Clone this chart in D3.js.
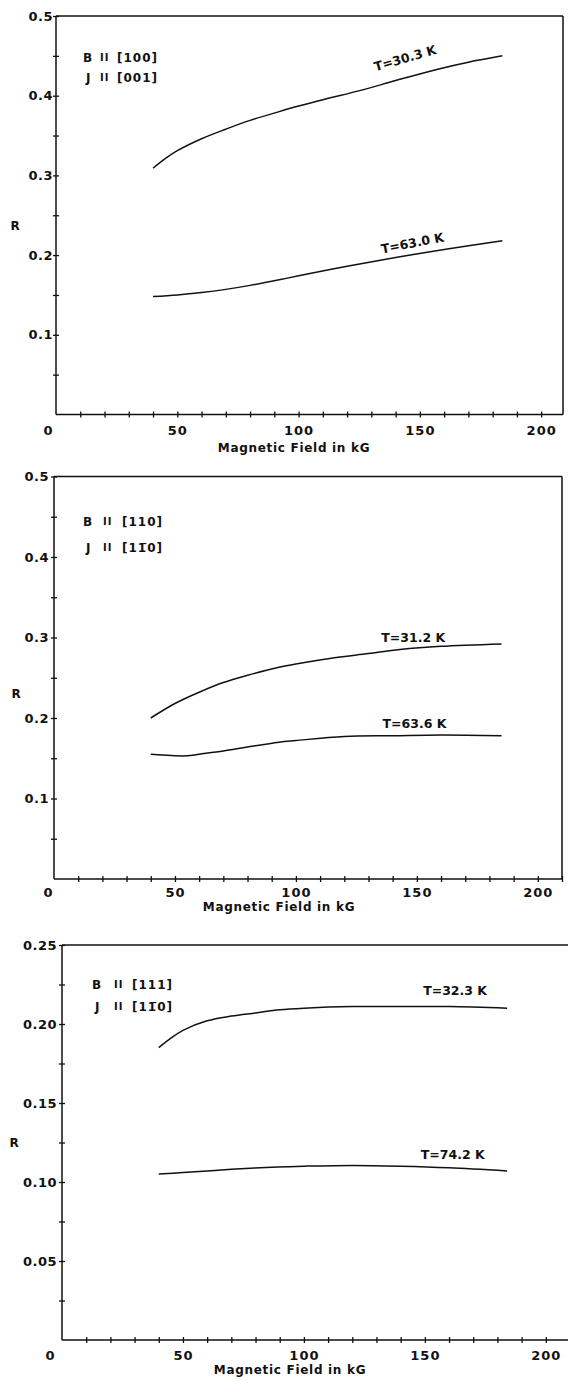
<!DOCTYPE html>
<html>
<head>
<meta charset="utf-8">
<script src="https://cdn.jsdelivr.net/npm/d3@7"></script>
<style>
  html, body { margin: 0; padding: 0; background: #fff; }
  svg { display: block; }
  text { font-family: "DejaVu Sans", sans-serif; font-weight: bold; fill: #111; }
</style>
</head>
<body>
<svg id="chart" width="568" height="1380"></svg>
<script>
// ---------------- DATA ----------------
const xTickValues = [0, 50, 100, 150, 200];
const xMinorStep = 10;

// Panel 1: B || [100], J || [001]
const field_p1_a = [40, 45, 50, 60, 70, 80, 92, 100, 110, 126, 140, 157, 170, 184];
const r_p1_a     = [0.309, 0.321, 0.331, 0.346, 0.358, 0.369, 0.380, 0.387, 0.395, 0.407, 0.419, 0.433, 0.442, 0.450];
const field_p1_b = [40, 50, 60, 70, 80, 92, 100, 120, 140, 160, 184];
const r_p1_b     = [0.148, 0.150, 0.153, 0.157, 0.162, 0.169, 0.174, 0.186, 0.197, 0.207, 0.218];

// Panel 2: B || [110], J || [1-10]
const field_p2_a = [40, 50, 60, 70, 80, 93, 100, 114, 130, 143, 160, 185];
const r_p2_a     = [0.200, 0.218, 0.232, 0.244, 0.253, 0.263, 0.267, 0.274, 0.280, 0.285, 0.289, 0.292];
const field_p2_b = [40, 45, 50, 55, 60, 70, 80, 93, 100, 120, 140, 160, 185];
const r_p2_b     = [0.155, 0.154, 0.153, 0.153, 0.155, 0.159, 0.164, 0.170, 0.172, 0.177, 0.178, 0.179, 0.178];

// Panel 3: B || [111], J || [1-10]
const field_p3_a = [40, 45, 50, 60, 70, 80, 90, 100, 120, 140, 160, 184];
const r_p3_a     = [0.185, 0.191, 0.196, 0.202, 0.205, 0.207, 0.209, 0.210, 0.211, 0.211, 0.211, 0.210];
const field_p3_b = [40, 50, 60, 70, 89, 100, 120, 140, 160, 184];
const r_p3_b     = [0.105, 0.106, 0.107, 0.108, 0.1095, 0.110, 0.1105, 0.110, 0.109, 0.107];

const curveLabels = [["T=30.3 K", "T=63.0 K"], ["T=31.2 K", "T=63.6 K"], ["T=32.3 K", "T=74.2 K"]];
const legendB = ["[100]", "[110]", "[111]"];
const legendJ = ["[001]", "[11\u03050]", "[11\u03050]"];
const yMaxes = [0.5, 0.5, 0.25];
const yMajorTicks = [[0.1, 0.2, 0.3, 0.4, 0.5], [0.1, 0.2, 0.3, 0.4, 0.5], [0.05, 0.10, 0.15, 0.20, 0.25]];
const xTitle = "Magnetic Field in kG";
const yTitle = "R";
const parallelSign = "II";

// ---------------- LAYOUT ----------------
const panels = [
  { left: 56, right: 563, xMax: 209, top: 16, bottom: 414.5, fmt: ".1f", minor: 0.05,
    curves: [[field_p1_a, r_p1_a], [field_p1_b, r_p1_b]],
    labelPos: [[144, 0.446, -16], [147, 0.214, -11]],
    zeroDx: -8, yLabelGap: 3, rPos: [15, 226], titleX: 294, titleDy: 34, tickDy: 16,
    leg: { bx: 83, px: 100, kx: 117, by: 58, jy: 78, jx: 86 }, rightBorder: true },
  { left: 54, right: 562, xMax: 210, top: 476.5, bottom: 879, fmt: ".1f", minor: 0.05,
    curves: [[field_p2_a, r_p2_a], [field_p2_b, r_p2_b]],
    labelPos: [[148.5, 0.299, 0], [149, 0.192, 0]],
    zeroDx: -6, yLabelGap: 5, rPos: [16, 694], titleX: 279, titleDy: 28, tickDy: 13,
    leg: { bx: 83, px: 103, kx: 122, by: 522, jy: 548, jx: 86 }, rightBorder: true },
  { left: 62, right: 570, xMax: 210, top: 945, bottom: 1340, fmt: ".2f", minor: 0.025,
    curves: [[field_p3_a, r_p3_a], [field_p3_b, r_p3_b]],
    labelPos: [[162.5, 0.2205, 0], [161.5, 0.1165, 0]],
    zeroDx: -12, yLabelGap: 5, rPos: [14, 1143], titleX: 290, titleDy: 30, tickDy: 15,
    leg: { bx: 92, px: 114, kx: 132, by: 985, jy: 1007, jx: 95 }, rightBorder: false }
];

const svg = d3.select("#chart");

panels.forEach((p, i) => {
  const g = svg.append("g");
  const x = d3.scaleLinear().domain([0, p.xMax]).range([p.left, p.right]);
  const y = d3.scaleLinear().domain([0, yMaxes[i]]).range([p.bottom, p.top]);

  // frame: top border and right border
  g.append("line").attr("x1", p.left).attr("x2", p.right).attr("y1", p.top).attr("y2", p.top)
    .attr("stroke", "#111").attr("stroke-width", 1.5);
  if (p.rightBorder) {
    g.append("line").attr("x1", p.right).attr("x2", p.right).attr("y1", p.top).attr("y2", p.bottom)
      .attr("stroke", "#111").attr("stroke-width", 1.5);
  }

  // x axis ticks (every 10 units, crossing)
  const xMinor = d3.range(xMinorStep, p.xMax + 0.01, xMinorStep);
  const xAxisDown = d3.axisBottom(x).tickValues(xMinor).tickSize(3).tickSizeOuter(0).tickFormat("");
  const xAxisUp = d3.axisTop(x).tickValues(xMinor).tickSize(3).tickSizeOuter(0).tickFormat("");
  const gx1 = g.append("g").attr("transform", `translate(0,${p.bottom})`).call(xAxisDown);
  const gx2 = g.append("g").attr("transform", `translate(0,${p.bottom})`).call(xAxisUp);
  gx2.select(".domain").remove();
  [gx1, gx2].forEach(a => {
    a.select(".domain").attr("stroke", "#111").attr("stroke-width", 1.5).attr("d", `M${p.left},0H${p.right}`);
    a.selectAll(".tick line").attr("stroke", "#111").attr("stroke-width", 1.3);
  });

  // x tick labels
  const xl = d3.axisBottom(x).tickValues(xTickValues).tickSize(0).tickFormat(d3.format("d"));
  const gxl = g.append("g").attr("transform", `translate(0,${p.bottom + p.tickDy})`).call(xl);
  gxl.select(".domain").remove();
  gxl.selectAll(".tick text").attr("dy", "0.35em").attr("y", 0)
    .style("font-size", "13px").style("letter-spacing", "1px").attr("fill", "#111")
    .attr("dx", d => d === 0 ? p.zeroDx : 0);

  // y axis ticks (crossing)
  const yAll = d3.range(p.minor, yMaxes[i] + 1e-9, p.minor).map(v => +v.toFixed(3));
  const yAxisL = d3.axisLeft(y).tickValues(yAll).tickSize(3).tickSizeOuter(0).tickFormat("");
  const yAxisR = d3.axisRight(y).tickValues(yAll).tickSize(3).tickSizeOuter(0).tickFormat("");
  const gy1 = g.append("g").attr("transform", `translate(${p.left},0)`).call(yAxisL);
  const gy2 = g.append("g").attr("transform", `translate(${p.left},0)`).call(yAxisR);
  gy2.select(".domain").remove();
  [gy1, gy2].forEach(a => {
    a.select(".domain").attr("stroke", "#111").attr("stroke-width", 1.5).attr("d", `M0,${p.top}V${p.bottom}`);
    a.selectAll(".tick line").attr("stroke", "#111").attr("stroke-width", 1.3);
  });

  // y tick labels
  const yl = d3.axisLeft(y).tickValues(yMajorTicks[i]).tickSize(0).tickPadding(p.yLabelGap)
    .tickFormat(d3.format(p.fmt));
  const gyl = g.append("g").attr("transform", `translate(${p.left},0)`).call(yl);
  gyl.select(".domain").remove();
  gyl.selectAll(".tick text").style("font-size", "13px").style("letter-spacing", "0.5px").attr("fill", "#111");

  // axis titles
  g.append("text").attr("x", p.titleX).attr("y", p.bottom + p.titleDy).attr("text-anchor", "middle")
    .attr("dominant-baseline", "middle").style("font-size", "12px").style("letter-spacing", "0.7px").text(xTitle);
  g.append("text").attr("x", p.rPos[0]).attr("y", p.rPos[1]).attr("text-anchor", "middle")
    .attr("dominant-baseline", "middle").style("font-size", "12px").text(yTitle);

  // curves
  const line = d3.line().x(d => x(d[0])).y(d => y(d[1])).curve(d3.curveCatmullRom.alpha(0.5));
  p.curves.forEach(([fx, ry], k) => {
    const pts = fx.map((f, j) => [f, ry[j]]);
    g.append("path").attr("d", line(pts)).attr("fill", "none").attr("stroke", "#111").attr("stroke-width", 1.5);
    const [lx, ly, rot] = p.labelPos[k];
    g.append("text").attr("transform", `translate(${x(lx)},${y(ly)}) rotate(${rot})`)
      .attr("text-anchor", "middle").attr("dominant-baseline", "middle")
      .style("font-size", "12.5px").text(curveLabels[i][k]);
  });

  // legend
  const L = p.leg;
  const legStyle = s => s.style("font-size", "12px").attr("dominant-baseline", "middle");
  g.append("text").attr("x", L.bx).attr("y", L.by).call(legStyle).text("B");
  g.append("text").attr("x", L.px).attr("y", L.by).call(legStyle).style("font-size", "10px").style("letter-spacing", "1px").text(parallelSign);
  g.append("text").attr("x", L.kx).attr("y", L.by).call(legStyle).style("letter-spacing", "1px").text(legendB[i]);
  g.append("text").attr("x", L.jx).attr("y", L.jy).call(legStyle).text("J");
  g.append("text").attr("x", L.px).attr("y", L.jy).call(legStyle).style("font-size", "10px").style("letter-spacing", "1px").text(parallelSign);
  g.append("text").attr("x", L.kx).attr("y", L.jy).call(legStyle).style("letter-spacing", "1px").text(legendJ[i]);
});
</script>
</body>
</html>
